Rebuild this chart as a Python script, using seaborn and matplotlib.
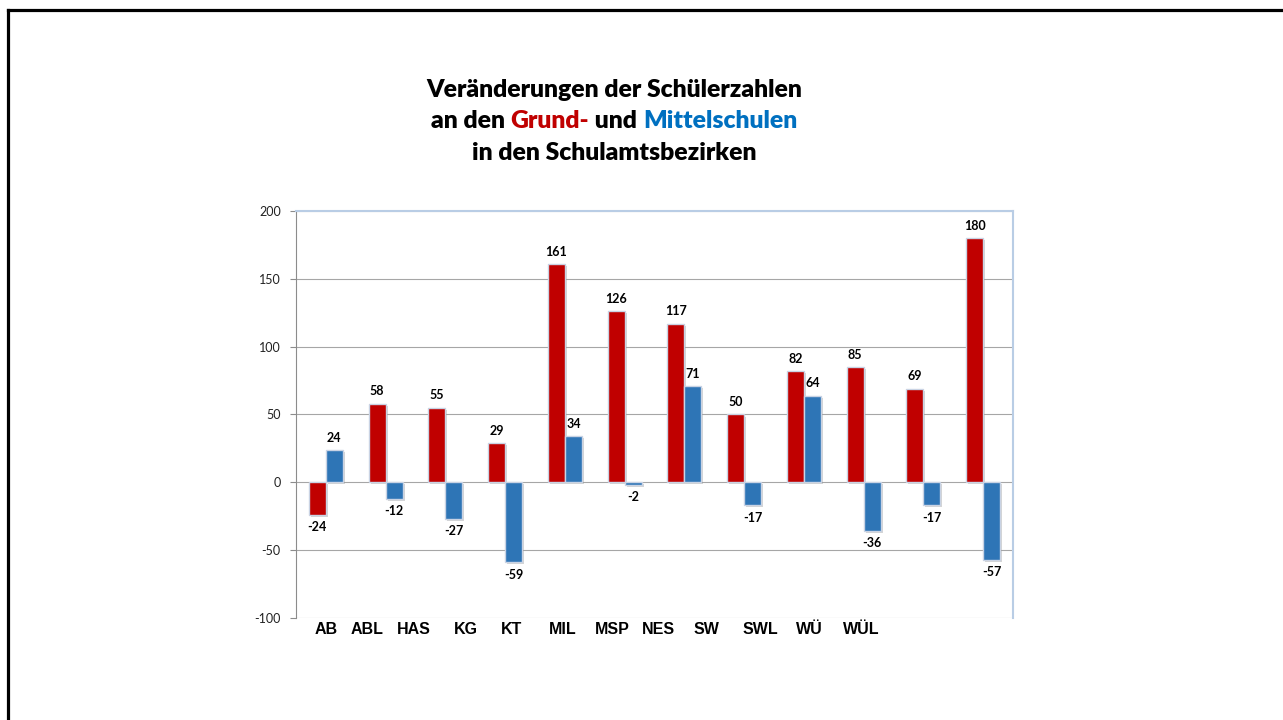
import matplotlib
matplotlib.use("Agg")
import matplotlib.pyplot as plt
import matplotlib.patheffects as pe
from matplotlib.lines import Line2D
import seaborn as sns
import pandas as pd

# ---- data ----
districts = ["AB", "ABL", "HAS", "KG", "KT", "MIL", "MSP", "NES", "SW", "SWL", "WÜ", "WÜL"]
grund = [-24, 58, 55, 29, 161, 126, 117, 50, 82, 85, 69, 180]
mittel = [24, -12, -27, -59, 34, -2, 71, -17, 64, -36, -17, -57]
y_ticks = [-100, -50, 0, 50, 100, 150, 200]
series_names = ["Grundschulen", "Mittelschulen"]
# positions of the district captions (they sit in their own row, not under each group)
label_pos = [0, 0.686, 1.473, 2.343, 3.113, 3.967, 4.787, 5.573, 6.377, 7.264, 8.084, 8.954]

RED = "#C00000"
BLUE = "#2E75B6"
TITLE_BLUE = "#0070C0"

sns.set_theme(style="white")
plt.rcParams['font.family'] = ['Lato', 'DejaVu Sans']

W, H = 1283, 720
fig = plt.figure(figsize=(W / 100, H / 100), dpi=100)
ax = fig.add_axes([296 / W, 1 - 618 / H, (1013 - 296) / W, (618 - 211) / H])

df = pd.DataFrame({
    "Bezirk": districts * 2,
    "Schulart": [series_names[0]] * len(grund) + [series_names[1]] * len(mittel),
    "Veränderung": grund + mittel,
})

sns.barplot(data=df, x="Bezirk", y="Veränderung", hue="Schulart", order=districts,
            hue_order=series_names, palette=[RED, BLUE], width=0.57, saturation=1,
            edgecolor="#c9d3e4", linewidth=1, errorbar=None, legend=False, ax=ax)

for c in ax.containers:
    for p in c:
        p.set_path_effects([pe.SimplePatchShadow(offset=(1.5, -1.5), shadow_rgbFace="#888888", alpha=0.35),
                            pe.Normal()])
    ax.bar_label(c, fmt="%d", padding=4.5, fontsize=9, fontweight="bold", color="black")

ax.set_xlim(-0.5, 11.5)
ax.set_ylim(-100, 200)
ax.set_yticks(y_ticks)
ax.set_yticklabels([str(v) for v in y_ticks], fontsize=9, color="#222222")
ax.tick_params(axis="y", left=True, length=4, width=0.8, color="#8c8c8c", pad=7)

ax.set_xticks(label_pos)
ax.set_xticklabels(districts, fontsize=11.5, fontweight="bold", color="black",
                   family=["Liberation Sans", "DejaVu Sans"])
ax.tick_params(axis="x", length=0, pad=3)
ax.set_xlabel("")
ax.set_ylabel("")

ax.yaxis.grid(True, color="#a6a6a6", linewidth=0.8)
ax.set_axisbelow(True)
ax.spines["left"].set_color("#8c8c8c")
ax.spines["left"].set_linewidth(0.8)
ax.spines["bottom"].set_visible(False)
ax.spines["top"].set_color("#b9cde5")
ax.spines["top"].set_linewidth(1.5)
ax.spines["right"].set_color("#b9cde5")
ax.spines["right"].set_linewidth(1.5)

# ---- title (three lines, second one multicoloured) ----
title_kw = dict(fontsize=17.8, fontweight="heavy", va="baseline")
cx = 614 / W
fig.text(cx, 1 - 97 / H, "Veränderungen der Schülerzahlen", ha="center", color="black", **title_kw)
fig.text(cx, 1 - 160 / H, "in den Schulamtsbezirken", ha="center", color="black", **title_kw)

pieces = [("an den ", "black"), ("Grund-", RED), (" und ", "black"), ("Mittelschulen", TITLE_BLUE)]
renderer = fig.canvas.get_renderer()


def text_width(s):
    t = fig.text(0, 0, s + "|", **title_kw)
    w1 = t.get_window_extent(renderer).width
    t.remove()
    t = fig.text(0, 0, "|", **title_kw)
    w2 = t.get_window_extent(renderer).width
    t.remove()
    return w1 - w2


widths = [text_width(s) for s, _ in pieces]
total = sum(widths)
x = 614 - total / 2
for (s, col), w in zip(pieces, widths):
    fig.text(x / W, 1 - 127.5 / H, s, ha="left", color=col, **title_kw)
    x += w

# ---- slide frame ----
fig.add_artist(Line2D([7.5 / W, 1], [1 - 9.5 / H, 1 - 9.5 / H], color="black", lw=2.3,
                      transform=fig.transFigure, solid_capstyle="projecting"))
fig.add_artist(Line2D([7.5 / W, 7.5 / W], [0, 1 - 9.5 / H], color="black", lw=2.3,
                      transform=fig.transFigure, solid_capstyle="projecting"))

fig.savefig("out.png", dpi=100, facecolor="white")
